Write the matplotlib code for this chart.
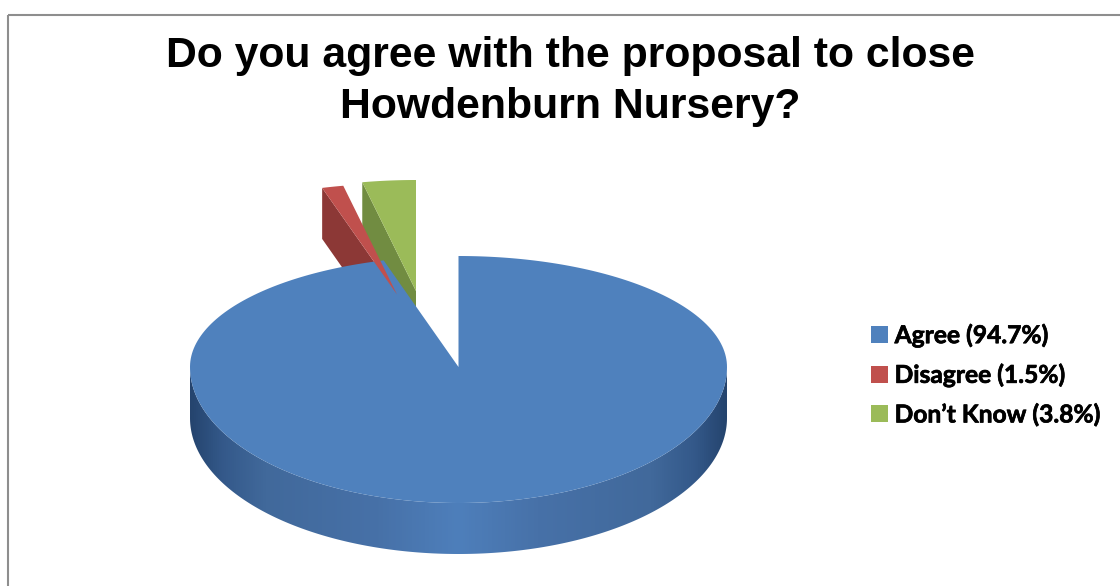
import matplotlib
matplotlib.use('Agg')
import matplotlib.patheffects as path_effects
import matplotlib.pyplot as plt
import numpy as np
from matplotlib.colors import LinearSegmentedColormap
from matplotlib.patches import Patch, Polygon, Rectangle

title = 'Do you agree with the proposal to close\nHowdenburn Nursery?'
categories = ['Agree', 'Disagree', 'Don\u2019t Know']
shares = [94.7, 1.5, 3.8]
legend_labels = ['Agree (94.7%)', 'Disagree (1.5%)', 'Don\u2019t Know (3.8%)']

top_colors = ['#4F81BD', '#C0504D', '#9BBB59']
wall_colors = ['#3F6797', '#8C3836', '#718C41']

# pie geometry in pixels, the axes are set up 1:1 with the output image
center = (458.5, 367)
radius_x = 268.5
radius_back = 111
radius_front = 136
view_ratio = 2.03
thickness = 51
# exploded slices are just shifted on the screen
shifts = [(0, 0), (-61.5, -72.5), (-42.5, -76)]


def rim_point(angle):
    # ray from the centre, clockwise from 12 o'clock, cut with the rim
    dx = view_ratio * np.sin(angle)
    dy = -np.cos(angle)
    radius_y = radius_back if dy < 0 else radius_front
    t = 1 / np.sqrt((dx / radius_x) ** 2 + (dy / radius_y) ** 2)
    return center[0] + t * dx, center[1] + t * dy


def slice_outline(start, stop):
    angles = np.radians(np.linspace(start, stop, 300))
    return [center] + [rim_point(a) for a in angles]


fig = plt.figure(figsize=(11.2, 5.86), dpi=100)
ax = fig.add_axes([0, 0, 1, 1])
ax.set_xlim(0, 1120)
ax.set_ylim(586, 0)
ax.axis('off')

# chart frame, it runs off the image to the right and at the bottom
ax.add_patch(Rectangle((8, 15), 1200, 700, fill=False, edgecolor='#8E8E8E', linewidth=1.5, zorder=1))

edges = np.concatenate([[0], np.cumsum(shares)]) * 3.6
outlines = [slice_outline(edges[i], edges[i + 1]) for i in range(len(shares))]

# exploded slices: the cut wall on the left side, then the top face
# red top goes over the big slice, everything else stays behind it
wall_order = {2: 2, 1: 4}
top_order = {2: 3, 1: 9}
for i in (2, 1):
    sx, sy = shifts[i]
    top = [(x + sx, y + sy) for x, y in outlines[i]]
    outer = top[1]
    wall = [top[0], outer, (outer[0], outer[1] + thickness), (top[0][0], top[0][1] + thickness)]
    ax.add_patch(Polygon(wall, closed=True, facecolor=wall_colors[i], edgecolor='none', zorder=wall_order[i]))
    ax.add_patch(Polygon(top, closed=True, facecolor=top_colors[i], edgecolor='none', zorder=top_order[i]))

# side of the big slice, a horizontal gradient clipped to the front rim
t = np.radians(np.linspace(0, 180, 300))
front_x = center[0] + radius_x * np.cos(t)
front_y = center[1] + radius_front * np.sin(t)
front = list(zip(front_x, front_y)) + list(zip(front_x[::-1], front_y[::-1] + thickness))
side_cmap = LinearSegmentedColormap.from_list('side', [
    (0.0, '#25446E'), (0.06, '#34598A'), (0.14, '#41699B'), (0.35, '#4771A8'), (0.5, '#4E7FBB'),
    (0.65, '#4771A8'), (0.86, '#41699B'), (0.94, '#34598A'), (1.0, '#25446E')])
side = ax.imshow(np.linspace(0, 1, 512).reshape(1, -1), cmap=side_cmap, aspect='auto', zorder=7,
                 extent=(center[0] - radius_x, center[0] + radius_x, center[1] + radius_front + thickness, center[1]))
side.set_clip_path(Polygon(front, closed=True, transform=ax.transData))
ax.set_xlim(0, 1120)
ax.set_ylim(586, 0)

ax.add_patch(Polygon(outlines[0], closed=True, facecolor=top_colors[0], edgecolor='none', zorder=8))

ax.text(570.5, 81.5, title, ha='center', va='center', fontsize=30.75, fontweight='bold',
        family='Liberation Sans', linespacing=1.33, color='black', zorder=10)

handles = [Patch(facecolor=c, edgecolor='none') for c in top_colors]
legend = ax.legend(handles, legend_labels, loc='center left', bbox_to_anchor=(871, 375),
                   bbox_transform=ax.transData, frameon=False, handlelength=0.69, handleheight=0.69,
                   handletextpad=0.27, labelspacing=0.655, borderpad=0, borderaxespad=0,
                   prop={'family': 'Lato', 'weight': 'bold', 'size': 17.7})
legend.set_zorder(10)
# Lato bold is a bit lighter than the original legend font
for label in legend.get_texts():
    label.set_path_effects([path_effects.withStroke(linewidth=0.5, foreground='black')])

fig.savefig('out.png', dpi=100)
plt.close(fig)
